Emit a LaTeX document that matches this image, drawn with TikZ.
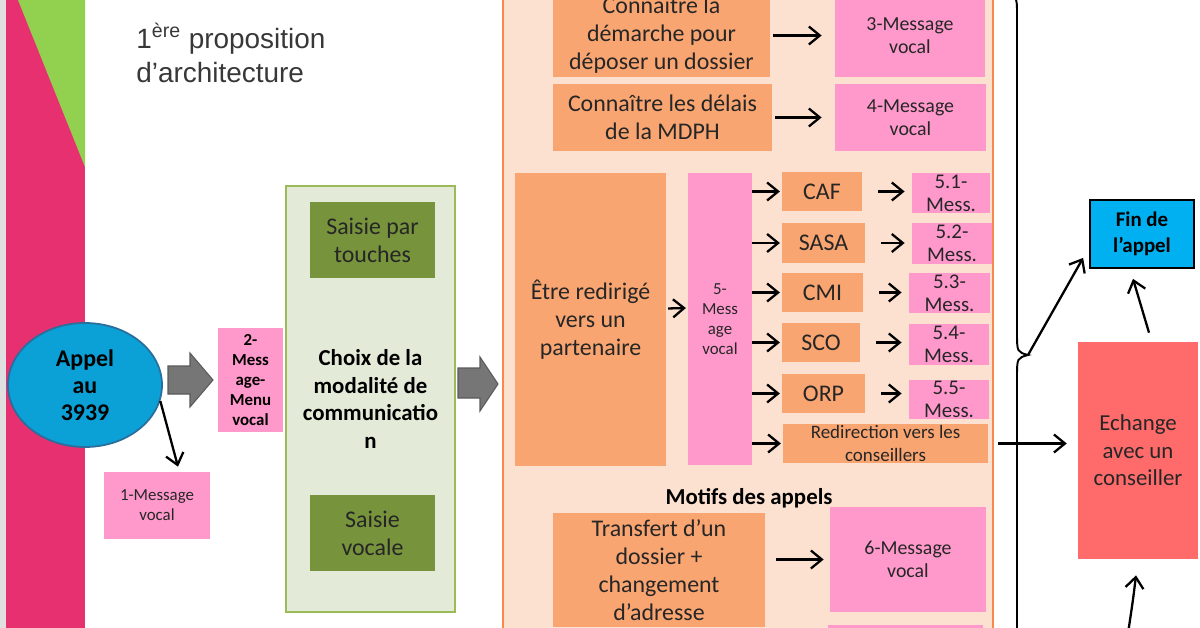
\documentclass[tikz,border=0pt]{standalone}
\usepackage{fontspec}
\setmainfont{Carlito}
\newfontfamily\titlefont{Liberation Sans}
\usetikzlibrary{arrows.meta,shapes.geometric}
\definecolor{magbar}{HTML}{E6306F}
\definecolor{limegr}{HTML}{92D050}
\definecolor{peach}{HTML}{FCE1D1}
\definecolor{peachln}{HTML}{F58A4B}
\definecolor{orbox}{HTML}{F9A571}
\definecolor{pkbox}{HTML}{FF99CC}
\definecolor{skyb}{HTML}{0BA0D6}
\definecolor{skybd}{HTML}{2A6E9C}
\definecolor{palegr}{HTML}{E3EAD8}
\definecolor{palegrln}{HTML}{9BBB59}
\definecolor{olive}{HTML}{77933C}
\definecolor{salmon}{HTML}{FF6B6B}
\definecolor{cyanb}{HTML}{00B0F0}
\definecolor{garr}{HTML}{767676}
\definecolor{garrd}{HTML}{5A5A5A}

\begin{document}
\begin{tikzpicture}[
  x=0.02cm, y=-0.02cm,
  sz/.style 2 args={minimum width=#1*0.02cm, minimum height=#2*0.02cm},
  bx/.style={rectangle, inner sep=0pt, align=center, text=black!85},
  ob/.style={bx, fill=orbox},
  pb/.style={bx, fill=pkbox},
  e/.style={-{Straight Barb[length=2.2mm, width=3.6mm]}, line width=1.3pt},
  ga/.style={fill=garr, draw=garrd, line width=0.6pt},
  tx17/.style={font=\fontsize{9.6}{11.3}\selectfont},
  tx17b/.style={font=\bfseries\fontsize{9.6}{11.3}\selectfont},
  tx19/.style={font=\fontsize{10.8}{13}\selectfont},
  tx20/.style={font=\fontsize{11.3}{12.8}\selectfont},
  tx21/.style={font=\fontsize{11.9}{13}\selectfont},
  tx23/.style={font=\fontsize{13}{15.6}\selectfont},
  tx24/.style={font=\fontsize{13.6}{15.9}\selectfont}
]
\useasboundingbox (0,0) rectangle (1200,628);
\fill[black!12] (0,0) rectangle (6,628);
\fill[magbar] (6,0) rectangle (85,628);
\fill[limegr] (18,0) -- (85,0) -- (85,167) -- cycle;

\node[anchor=base west, align=left, inner sep=0pt, text=black!78,
  font=\titlefont\fontsize{15.9}{19.8}\selectfont] (title) at (136,83)
  {1\textsuperscript{ère} proposition\\d’architecture};

\node[ellipse, draw=skybd, fill=skyb, line width=1pt, sz={154}{124}, inner sep=0pt,
  align=center, font=\bfseries\fontsize{13.6}{15.3}\selectfont] (appel) at (85,385) {Appel\\au\\3939};
\node[pb, sz={106}{67}, tx17] (m1) at (157,505.5) {1-Message\\vocal};
\node[pb, sz={65}{104}, tx17b, text=black] (m2) at (250.5,380) {2-\\Mess\\age-\\Menu\\vocal};
\draw[e] (appel.-12) -- ([xshift=0.42cm, yshift=0.1cm]m1.north);
\draw[ga] (168,366) -- (190,366) -- (190,353) -- (213,380) -- (190,407) -- (190,394) -- (168,394) -- cycle;

\node[bx, draw=palegrln, fill=palegr, line width=0.8pt, sz={169}{426}, text=black,
  font=\bfseries\fontsize{13}{15.9}\selectfont] (choix) at (370.5,399)
  {Choix de la\\modalité de\\communicatio\\n};
\node[bx, fill=olive, sz={125}{76}, tx24] (touch) at (372.5,240) {Saisie par\\touches};
\node[bx, fill=olive, sz={125}{76}, tx24] (svoc) at (372.5,533) {Saisie\\vocale};
\draw[ga] (458,368) -- (480,368) -- (480,357) -- (498,384) -- (480,411) -- (480,398) -- (458,398) -- cycle;

\node[bx, draw=peachln, fill=peach, line width=0.8pt, sz={490}{720}] (motifs) at (748,300) {};
\node[inner sep=0pt, font=\bfseries\fontsize{13}{15}\selectfont] (mtit) at (749,498) {Motifs des appels};

\node[ob, sz={217}{83}, tx24] (dem) at (661.5,35.5) {Connaître la\\démarche pour\\déposer un dossier};
\node[pb, sz={150}{83}, tx20] (m3) at (910,35.5) {3-Message\\vocal};
\node[ob, sz={219}{67}, tx24] (del) at (662.5,117.5) {Connaître les délais\\de la MDPH};
\node[pb, sz={151}{67}, tx20] (m4) at (910.5,117.5) {4-Message\\vocal};
\draw[e, shorten <=1.7pt, shorten >=7.4pt] (dem) -- (m3);
\draw[e, shorten <=1.7pt, shorten >=7.4pt] (del) -- (m4);

\node[ob, sz={151}{293}, tx24] (redir) at (590.5,319.5) {Être redirigé\\vers un\\partenaire};
\node[pb, sz={64}{292}, tx17] (m5) at (720,319) {5-\\Mess\\age\\vocal};
\draw[e, shorten <=1pt, shorten >=1pt] ([yshift=0.22cm]redir.east) -- ([yshift=0.22cm]m5.west);

\node[ob, sz={80}{39}, tx24] (caf) at (822,191.5) {CAF};
\node[ob, sz={83}{40}, tx24] (sasa) at (823.5,243) {SASA};
\node[ob, sz={81}{39}, tx24] (cmi) at (822.5,292.5) {CMI};
\node[ob, sz={78}{39}, tx24] (sco) at (821,342.5) {SCO};
\node[ob, sz={83}{39}, tx24] (orp) at (823.5,393.5) {ORP};
\node[ob, sz={205}{39}, tx19] (cons) at (885.5,443.5) {Redirection vers les\\conseillers};

\node[pb, sz={78}{40}, tx21] (m51) at (951,193) {5.1-\\Mess.};
\node[pb, sz={80}{41}, tx21] (m52) at (952,243.5) {5.2-\\Mess.};
\node[pb, sz={81}{40}, tx21] (m53) at (949.5,293) {5.3-\\Mess.};
\node[pb, sz={80}{41}, tx21] (m54) at (949,344.5) {5.4-\\Mess.};
\node[pb, sz={80}{39}, tx21] (m55) at (949,399.5) {5.5-\\Mess.};

\foreach \p in {caf,sasa,cmi,sco,orp,cons}
  \draw[e, shorten >=1pt] (m5.east |- \p) -- (\p.west);
\foreach \p/\q in {caf/m51,sasa/m52,cmi/m53,sco/m54,orp/m55}
  \draw[e, shorten <=9pt, shorten >=4pt] (\p.east) -- (\p.east -| \q.west);

\node[ob, sz={212}{114}, tx24] (transf) at (659,570) {Transfert d’un\\dossier +\\changement\\d’adresse};
\node[pb, sz={156}{105}, tx20] (m6) at (908,559.5) {6-Message\\vocal};
\node[pb, sz={155}{40}] (m7) at (905.5,645) {};
\draw[e, shorten <=6pt, shorten >=3.4pt] (transf.east |- m6) -- (m6);

\node[bx, draw=black, fill=cyanb, line width=1pt, sz={104}{68}, text=black,
  font=\bfseries\fontsize{11.9}{14.7}\selectfont] (fin) at (1142,234) {Fin de\\l’appel};
\node[bx, fill=salmon, sz={120}{217}, tx23] (ech) at (1138,450.5) {Echange\\avec un\\conseiller};

\coordinate (cusp) at (1028,355);
\coordinate (bot) at (1127,640);
\draw[line width=1.1pt] (1000,-5) .. controls (1017,-5) .. (1017,15) -- (1017,332)
  .. controls (1017,352) .. (cusp) .. controls (1017,358) .. (1017,378) -- (1017,640);
\draw[e] (cusp) -- ([xshift=-0.12cm, yshift=0.22cm]fin.south west);
\draw[e] ([xshift=0.22cm, yshift=0.18cm]ech.north) -- ([xshift=-0.18cm, yshift=-0.2cm]fin.south);
\draw[e, shorten <=5.7pt, shorten >=6.2pt] (cons) -- (cons -| ech.west);
\draw[e] (bot) .. controls (1133,600) .. ([xshift=-0.04cm, yshift=-0.32cm]ech.south);
\end{tikzpicture}
\end{document}
